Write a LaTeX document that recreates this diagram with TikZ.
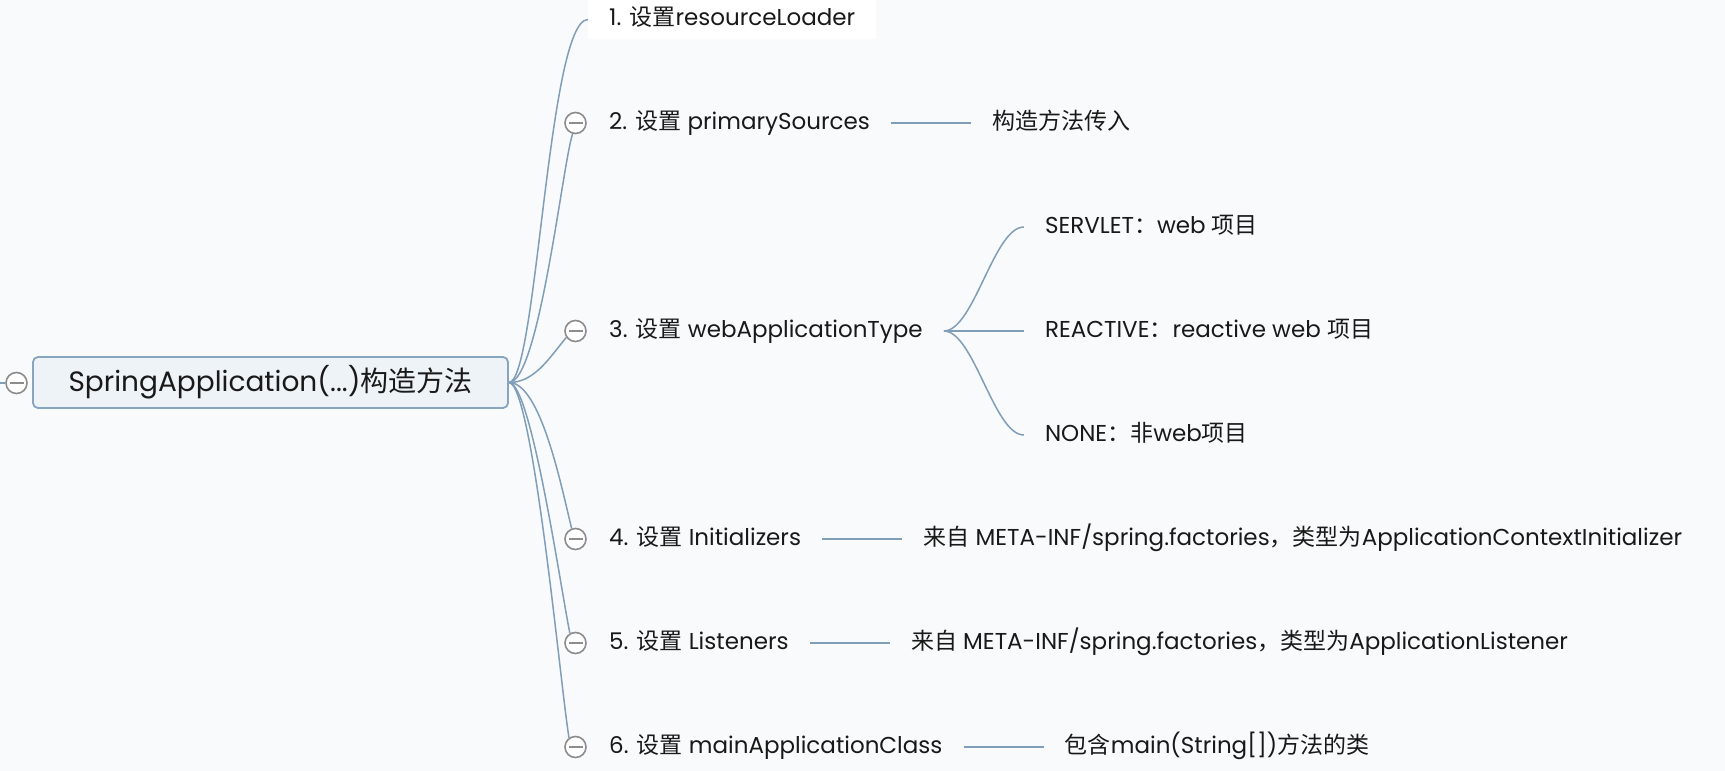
\documentclass[tikz,border=0pt]{standalone}
\usepackage{fontspec}
\setmainfont{Poppins}
\newfontfamily\cjk{Noto Sans CJK SC}
\usetikzlibrary{positioning,calc,backgrounds}
\definecolor{bgcol}{RGB}{249,250,251}
\definecolor{linecol}{RGB}{128,158,184}
\definecolor{rootfill}{RGB}{238,243,247}
\definecolor{rootline}{RGB}{135,165,190}
\definecolor{knobcol}{RGB}{140,140,140}
\definecolor{txtcol}{RGB}{25,25,25}
\newcommand{\zh}[1]{{\cjk #1}}
\tikzset{
  topic/.style={inner xsep=21pt, inner ysep=0pt, text height=17pt, text depth=5pt,
    minimum height=39pt, font=\fontsize{23}{27}\selectfont, text=txtcol, anchor=west},
  knob/.style={circle, draw=knobcol, line width=1.6pt, fill=white, minimum size=21pt,
    inner sep=0pt, path picture={\draw[knobcol, line width=1.6pt]
      ([xshift=-7pt]path picture bounding box.center) -- ([xshift=7pt]path picture bounding box.center);}},
  branch/.style={draw=linecol, line width=1.5pt},
}
\begin{document}
\begin{tikzpicture}[x=1pt,y=-1pt]
  \begin{scope}[on background layer]
    \fill[bgcol] (0,0) rectangle (1725,771);
  \end{scope}
  \useasboundingbox (0,0) rectangle (1725,771);

  % central topic
  \node[rounded corners=5pt, draw=rootline, line width=1.8pt, fill=rootfill,
    minimum width=475pt, minimum height=51pt, font=\fontsize{28}{33}\selectfont,
    text=txtcol] (root) at (270.5,382.5) {SpringApplication(...)\zh{构造方法}};
  \node[knob] (k0) at (16.5,383) {};
  \coordinate (in0) at (0,383);
  \draw[branch] (in0) -- (k0);

  % main branches
  \node[topic, fill=white] (c1) at (588,19.5) {1. \zh{设置}resourceLoader};
  \node[topic] (c2) at (588,123) {2. \zh{设置} primarySources};
  \node[topic] (c3) at (588,331) {3. \zh{设置} webApplicationType};
  \node[topic] (c4) at (588,539) {4. \zh{设置} Initializers};
  \node[topic] (c5) at (588,643) {5. \zh{设置} Listeners};
  \node[topic] (c6) at (588,747) {6. \zh{设置} mainApplicationClass};
  \foreach \n/\y in {2/123,3/331,4/539,5/643,6/747}
    \node[knob] (k\n) at (575.5,\y) {};

  \begin{scope}[on background layer]
    \draw[branch] (root.east) .. controls +(28,0) and +(-40,0) .. (c1.west);
    \draw[branch] (root.east) .. controls +(30,0) and +(-10,30) .. (k2.255);
    \draw[branch] (root.east) .. controls +(25,0) and +(-18,22) .. (k3.215);
    \draw[branch] (root.east) .. controls +(32,0) and +(-10,-40) .. (k4.110);
    \draw[branch] (root.east) .. controls +(22,0) and +(-10,-50) .. (k5.120);
    \draw[branch] (root.east) .. controls +(24,0) and +(-8,-46) .. (k6.125);
  \end{scope}

  % sub topics
  \node[topic, right=80pt of c2] (c2a) {\zh{构造方法传入}};
  \node[topic, right=80pt of c3] (c3b) {REACTIVE\zh{：}reactive web \zh{项目}};
  \node[topic] (c3a) at ($(c3b.west)+(0,-104)$) {SERVLET\zh{：}web \zh{项目}};
  \node[topic] (c3c) at ($(c3b.west)+(0,104)$) {NONE\zh{：非}web\zh{项目}};
  \node[topic, right=80pt of c4] (c4a) {\zh{来自} META-INF/spring.factories\zh{，类型为}ApplicationContextInitializer};
  \node[topic, right=80pt of c5] (c5a) {\zh{来自} META-INF/spring.factories\zh{，类型为}ApplicationListener};
  \node[topic, right=80pt of c6] (c6a) {\zh{包含}main(String[])\zh{方法的类}};

  \draw[branch] (c2) -- (c2a);
  \foreach \s in {c3a,c3b,c3c}
    \draw[branch] (c3.east) .. controls +(30,0) and +(-30,0) .. (\s.west);
  \draw[branch] (c4) -- (c4a);
  \draw[branch] (c5) -- (c5a);
  \draw[branch] (c6) -- (c6a);
\end{tikzpicture}
\end{document}
